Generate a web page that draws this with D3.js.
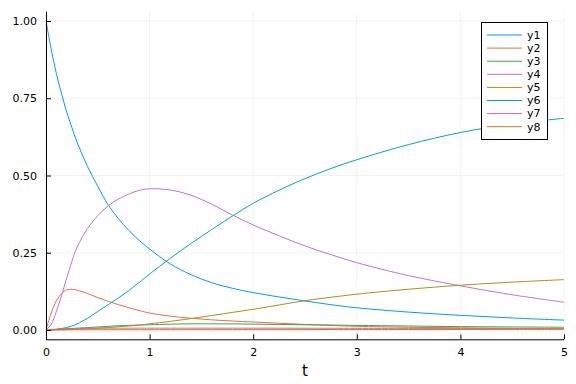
<!DOCTYPE html>
<html>
<head>
<meta charset="utf-8">
<script src="https://cdn.jsdelivr.net/npm/d3@7"></script>
<style>
  html, body { margin: 0; padding: 0; background: #fff; }
  svg { display: block; }
  text { font-family: "DejaVu Sans", sans-serif; }
</style>
</head>
<body>
<svg id="chart" width="576" height="384"></svg>
<script>
// ---- data ----
const t  = [0, 0.05, 0.1, 0.15, 0.2, 0.25, 0.3, 0.4, 0.5, 0.6, 0.7, 0.8, 0.9, 1.0, 1.2, 1.4, 1.6, 1.8, 2.0, 2.25, 2.5, 2.75, 3.0, 3.5, 4.0, 4.5, 5.0];
const y1 = [1, 0.909, 0.83, 0.765, 0.705, 0.655, 0.608, 0.53, 0.465, 0.405, 0.36, 0.322, 0.29, 0.262, 0.214, 0.179, 0.153, 0.135, 0.121, 0.107, 0.094, 0.082, 0.072, 0.058, 0.0475, 0.039, 0.032];
const y2 = [0, 0.055, 0.095, 0.118, 0.13, 0.132, 0.129, 0.118, 0.105, 0.093, 0.082, 0.072, 0.063, 0.055, 0.045, 0.038, 0.033, 0.029, 0.026, 0.022, 0.018, 0.015, 0.012, 0.009, 0.007, 0.005, 0.004];
const y3 = [0, 0.001, 0.002, 0.003, 0.004, 0.005, 0.006, 0.008, 0.010, 0.012, 0.014, 0.015, 0.016, 0.017, 0.019, 0.020, 0.020, 0.020, 0.019, 0.018, 0.017, 0.016, 0.015, 0.013, 0.011, 0.010, 0.009];
const y4 = [0, 0.018, 0.06, 0.112, 0.168, 0.222, 0.268, 0.328, 0.37, 0.402, 0.424, 0.44, 0.452, 0.457, 0.453, 0.436, 0.407, 0.372, 0.34, 0.305, 0.272, 0.244, 0.218, 0.176, 0.143, 0.114, 0.09];
const y5 = [0, 0, 0.0005, 0.001, 0.0015, 0.002, 0.003, 0.004, 0.006, 0.008, 0.011, 0.013, 0.016, 0.02, 0.028, 0.037, 0.047, 0.057, 0.067, 0.081, 0.095, 0.106, 0.116, 0.132, 0.145, 0.155, 0.163];
const y6 = [0, 0.0005, 0.002, 0.005, 0.008, 0.013, 0.02, 0.038, 0.06, 0.082, 0.104, 0.128, 0.154, 0.181, 0.232, 0.28, 0.325, 0.369, 0.41, 0.4525, 0.49, 0.5225, 0.551, 0.60, 0.639, 0.6665, 0.685];
const y7 = [0, 0.002, 0.003, 0.004, 0.0045, 0.005, 0.005, 0.0055, 0.006, 0.006, 0.006, 0.006, 0.006, 0.006, 0.006, 0.006, 0.006, 0.006, 0.006, 0.006, 0.0058, 0.0057, 0.0055, 0.0053, 0.0052, 0.0051, 0.005];
const y8 = [0, 0, 0.0002, 0.0004, 0.0006, 0.0008, 0.001, 0.001, 0.001, 0.001, 0.001, 0.001, 0.001, 0.001, 0.0011, 0.0012, 0.0012, 0.0013, 0.0013, 0.0014, 0.0015, 0.0016, 0.0016, 0.0017, 0.0018, 0.0019, 0.002];
const seriesNames = ["y1", "y2", "y3", "y4", "y5", "y6", "y7", "y8"];
const seriesValues = [y1, y2, y3, y4, y5, y6, y7, y8];
const xTicks = [0, 1, 2, 3, 4, 5];
const yTicks = [0, 0.25, 0.5, 0.75, 1.0];
const xLabel = "t";

// ---- styling ----
const colors = ["#009AFA", "#E36F47", "#3EA44E", "#C271D2", "#AC8E18", "#00A9AD", "#ED5E93", "#C68125"];
const plot = { left: 46, right: 564, top: 11.7, bottom: 339.3 };

const svg = d3.select("#chart");
const x = d3.scaleLinear().domain([0, 5]).range([plot.left, plot.right]);
const y = d3.scaleLinear().domain([-0.03, 1.03]).range([plot.bottom, plot.top]);

// grid
const grid = svg.append("g");
grid.selectAll("line.gx").data(xTicks).join("line")
  .attr("x1", d => x(d)).attr("x2", d => x(d))
  .attr("y1", plot.top).attr("y2", plot.bottom)
  .attr("stroke", "#000").attr("stroke-opacity", 0.1).attr("stroke-width", 0.5);
grid.selectAll("line.gy").data(yTicks).join("line")
  .attr("y1", d => y(d)).attr("y2", d => y(d))
  .attr("x1", plot.left).attr("x2", plot.right)
  .attr("stroke", "#000").attr("stroke-opacity", 0.1).attr("stroke-width", 0.5);

// lines
svg.append("clipPath").attr("id", "clip").append("rect")
  .attr("x", plot.left).attr("y", plot.top)
  .attr("width", plot.right - plot.left).attr("height", plot.bottom - plot.top);
const line = d3.line().x((d, i) => x(t[i])).y(d => y(d)).curve(d3.curveCatmullRom.alpha(0.5));
const lg = svg.append("g").attr("clip-path", "url(#clip)");
seriesValues.forEach((vals, k) => {
  lg.append("path").datum(vals)
    .attr("d", line).attr("fill", "none")
    .attr("stroke", colors[k]).attr("stroke-width", 1);
});

// axes
const xAxis = d3.axisBottom(x).tickValues(xTicks).tickFormat(d3.format("d")).tickSizeInner(-5).tickSizeOuter(0).tickPadding(9);
const yAxis = d3.axisLeft(y).tickValues(yTicks).tickFormat(d3.format(".2f")).tickSizeInner(-5).tickSizeOuter(0).tickPadding(9);
const gx = svg.append("g").attr("transform", `translate(0,${plot.bottom})`).call(xAxis);
const gy = svg.append("g").attr("transform", `translate(${plot.left},0)`).call(yAxis);
[gx, gy].forEach(g => {
  g.select(".domain").attr("stroke", "#000").attr("stroke-width", 1);
  g.selectAll(".tick line").attr("stroke", "#000").attr("stroke-width", 1);
  g.selectAll(".tick text").attr("fill", "#000").style("font-size", "11px").style("font-family", "DejaVu Sans, sans-serif");
});
gy.select(".domain").attr("d", `M0.5,${plot.top}V${plot.bottom}`);
gx.select(".domain").attr("d", `M${plot.left},0.5H${plot.right}`);

svg.append("text").attr("x", (plot.left + plot.right) / 2).attr("y", 376)
  .attr("text-anchor", "middle").style("font-size", "15px").attr("fill", "#000").text(xLabel);

// legend
const leg = svg.append("g");
const lx = 481.5, ly = 22.5, lw = 66, lh = 117;
leg.append("rect").attr("x", lx).attr("y", ly).attr("width", lw).attr("height", lh)
  .attr("fill", "#fff").attr("stroke", "#000").attr("stroke-width", 1);
seriesNames.forEach((name, k) => {
  const cy = 35 + k * 13.1;
  leg.append("line").attr("x1", 487).attr("x2", 522).attr("y1", cy).attr("y2", cy)
    .attr("stroke", colors[k]).attr("stroke-width", 1);
  leg.append("text").attr("x", 527).attr("y", cy).attr("dy", "0.35em")
    .style("font-size", "11px").attr("fill", "#000").text(name);
});
</script>
</body>
</html>
